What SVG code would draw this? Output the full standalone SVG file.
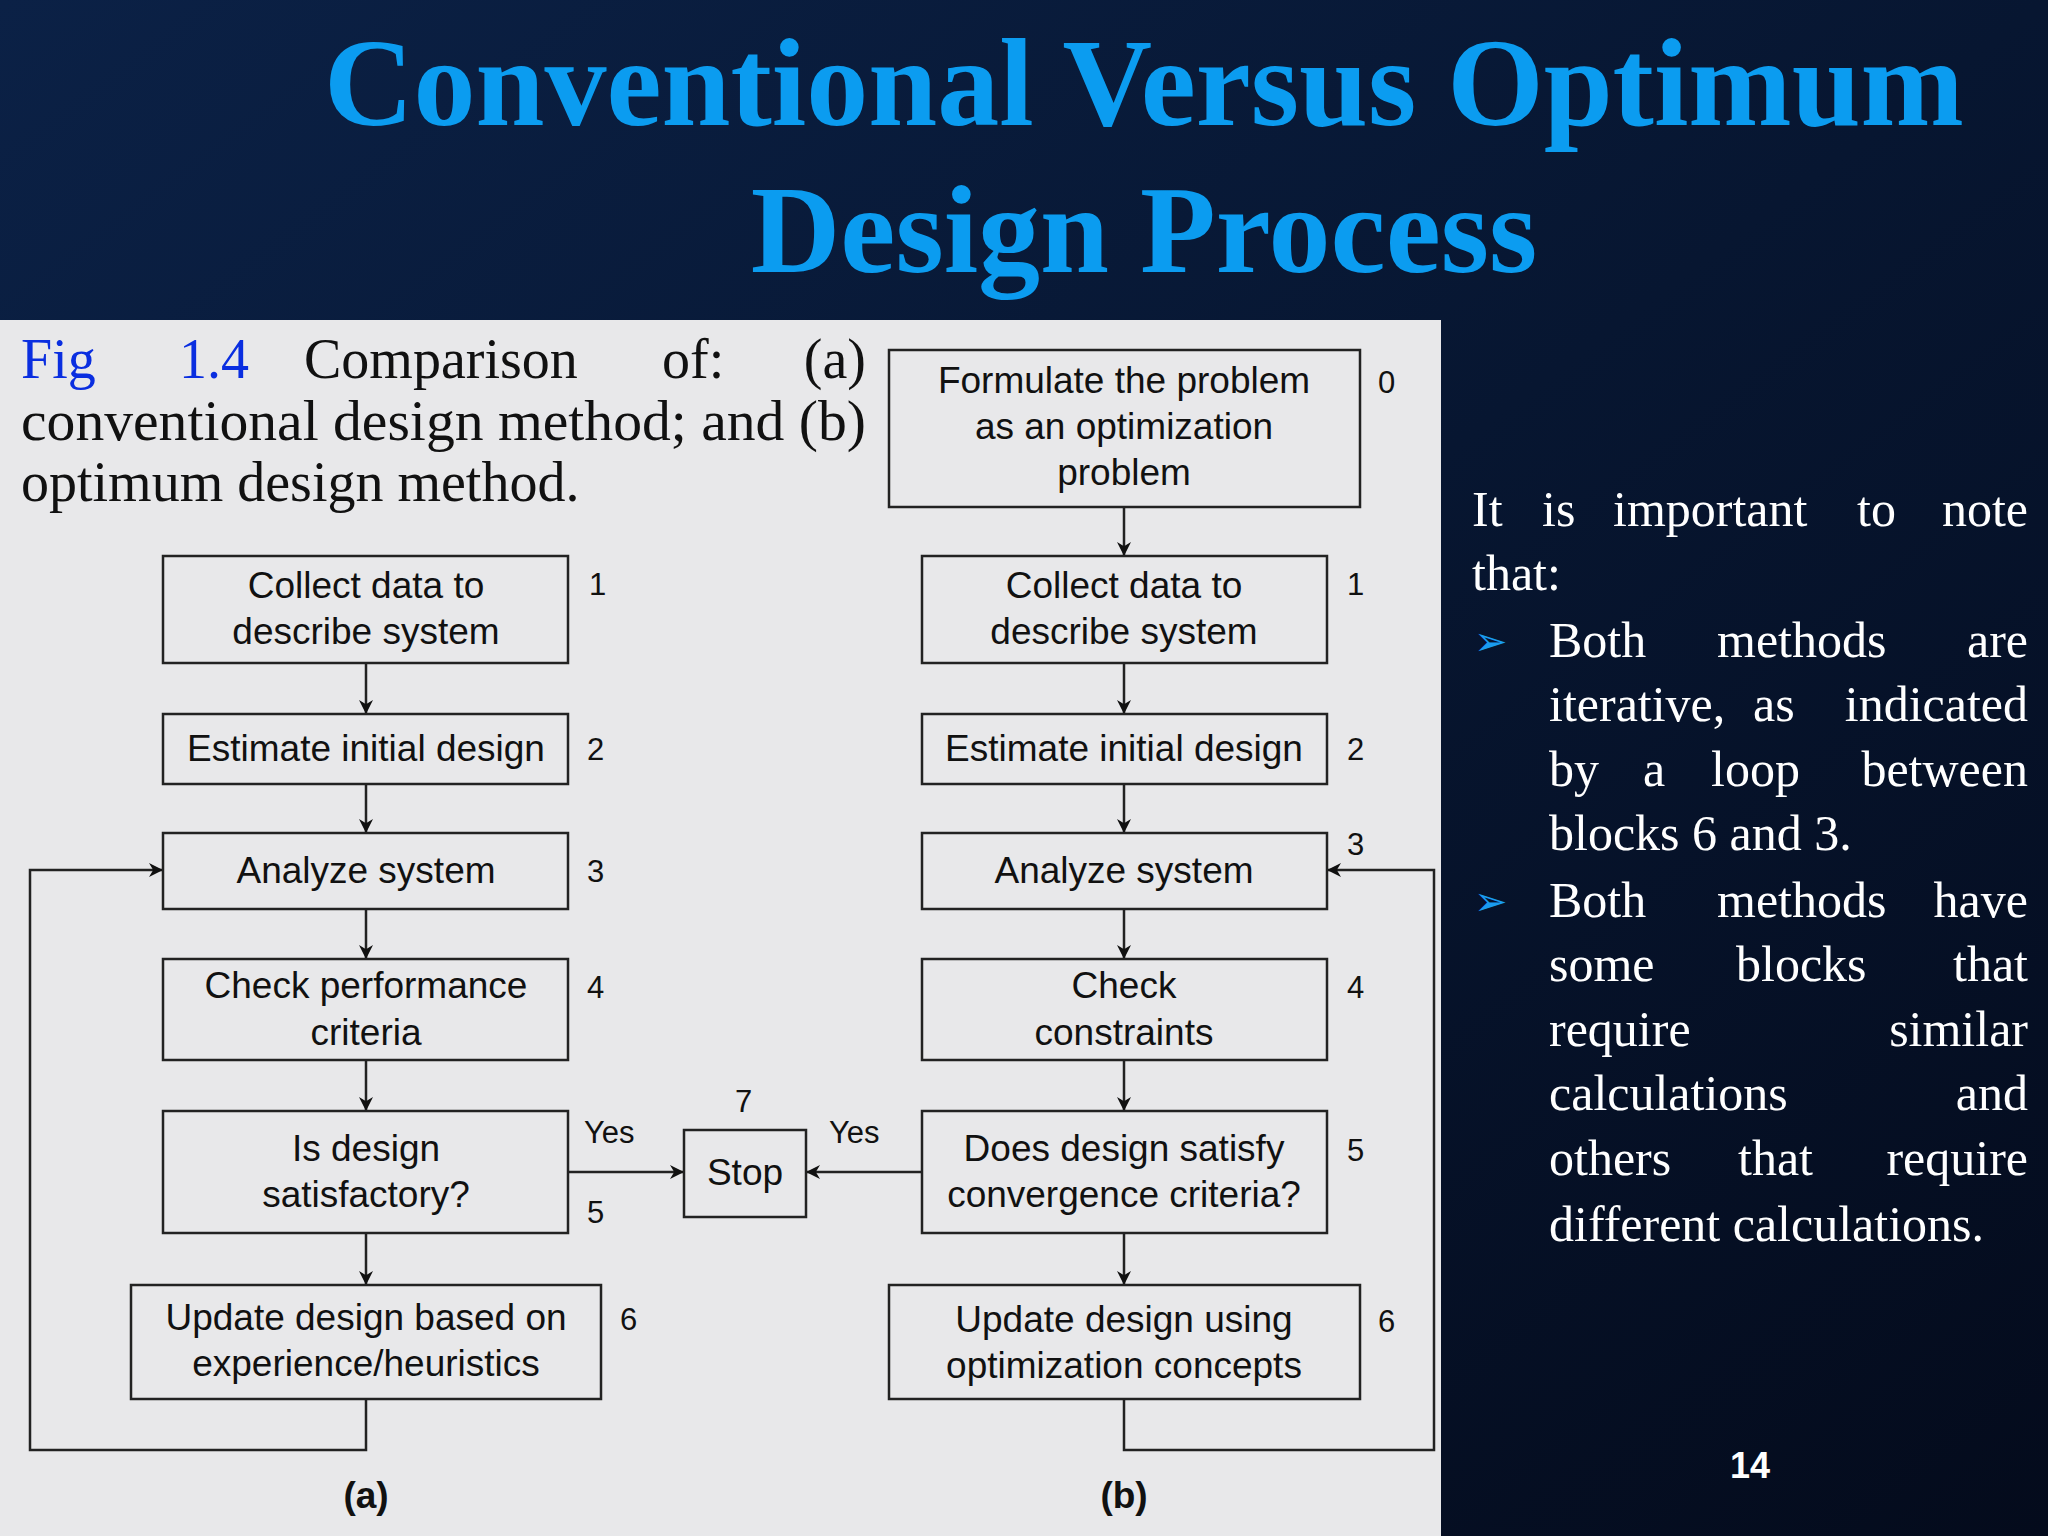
<svg xmlns="http://www.w3.org/2000/svg" width="2048" height="1536" viewBox="0 0 2048 1536">
<defs>
<linearGradient id="bg" x1="0" y1="0" x2="1" y2="1">
<stop offset="0" stop-color="#0b2146"/><stop offset="0.5" stop-color="#071631"/><stop offset="1" stop-color="#040b1c"/>
</linearGradient>
<marker id="ar" viewBox="0 0 10 10" refX="10" refY="5" markerWidth="16" markerHeight="14" orient="auto" markerUnits="userSpaceOnUse"><path d="M0,0 L10,5 L0,10 L3,5 z" fill="#111"/></marker>
<style>
.t{font-family:"Liberation Serif",serif;font-weight:bold;font-size:124px;fill:#0b9cf0;text-anchor:middle}
.c{font-family:"Liberation Serif",serif;font-size:56px;fill:#111}
.b{fill:#0a2ee0}
.box{fill:none;stroke:#222;stroke-width:2.5}
.n{font-family:"Liberation Sans",Arial,sans-serif;font-size:37px;fill:#111;text-anchor:middle}
.s{font-family:"Liberation Sans",Arial,sans-serif;font-size:31px;fill:#111}
.w{font-family:"Liberation Serif",serif;font-size:50px;fill:#fff}
.e{text-anchor:end}
.ln{fill:none;stroke:#222;stroke-width:2.5}
</style>
</defs>
<rect width="2048" height="1536" fill="url(#bg)"/>
<text class="t" x="1144" y="125">Conventional Versus Optimum</text>
<text class="t" x="1144" y="272">Design Process</text>
<rect x="0" y="320" width="1441" height="1216" fill="#e8e8ea"/>
<g id="caption">
<text class="c b" x="21" y="378">Fig</text>
<text class="c b" x="179" y="378">1.4</text>
<text class="c" x="304" y="378">Comparison</text>
<text class="c" x="662" y="378">of:</text>
<text class="c e" x="866" y="378">(a)</text>
<text class="c" x="21" y="440" textLength="845" lengthAdjust="spacingAndGlyphs">conventional design method; and (b)</text>
<text class="c" x="21" y="501">optimum design method.</text>
</g>
<g id="connectors">
<line class="ln" x1="366" y1="663" x2="366" y2="714" marker-end="url(#ar)"/>
<line class="ln" x1="366" y1="784" x2="366" y2="833" marker-end="url(#ar)"/>
<line class="ln" x1="366" y1="909" x2="366" y2="959" marker-end="url(#ar)"/>
<line class="ln" x1="366" y1="1060" x2="366" y2="1111" marker-end="url(#ar)"/>
<line class="ln" x1="366" y1="1233" x2="366" y2="1285" marker-end="url(#ar)"/>
<polyline class="ln" points="366,1399 366,1450 30,1450 30,870 163,870" marker-end="url(#ar)"/>
<line class="ln" x1="1124" y1="507" x2="1124" y2="556" marker-end="url(#ar)"/>
<line class="ln" x1="1124" y1="663" x2="1124" y2="714" marker-end="url(#ar)"/>
<line class="ln" x1="1124" y1="784" x2="1124" y2="833" marker-end="url(#ar)"/>
<line class="ln" x1="1124" y1="909" x2="1124" y2="959" marker-end="url(#ar)"/>
<line class="ln" x1="1124" y1="1060" x2="1124" y2="1111" marker-end="url(#ar)"/>
<line class="ln" x1="1124" y1="1233" x2="1124" y2="1285" marker-end="url(#ar)"/>
<polyline class="ln" points="1124,1399 1124,1450 1434,1450 1434,870 1327,870" marker-end="url(#ar)"/>
<line class="ln" x1="568" y1="1172" x2="684" y2="1172" marker-end="url(#ar)"/>
<line class="ln" x1="922" y1="1172" x2="806" y2="1172" marker-end="url(#ar)"/>
</g>
<g id="a1"><rect class="box" x="163" y="556" width="405" height="107"/><text class="n" x="366" y="598">Collect data to</text><text class="n" x="366" y="644">describe system</text><text class="s" x="589" y="595">1</text></g>
<g id="a2"><rect class="box" x="163" y="714" width="405" height="70"/><text class="n" x="366" y="761">Estimate initial design</text><text class="s" x="587" y="760">2</text></g>
<g id="a3"><rect class="box" x="163" y="833" width="405" height="76"/><text class="n" x="366" y="883">Analyze system</text><text class="s" x="587" y="882">3</text></g>
<g id="a4"><rect class="box" x="163" y="959" width="405" height="101"/><text class="n" x="366" y="998">Check performance</text><text class="n" x="366" y="1045">criteria</text><text class="s" x="587" y="998">4</text></g>
<g id="a5"><rect class="box" x="163" y="1111" width="405" height="122"/><text class="n" x="366" y="1161">Is design</text><text class="n" x="366" y="1207">satisfactory?</text><text class="s" x="584" y="1143">Yes</text><text class="s" x="587" y="1223">5</text></g>
<g id="a6"><rect class="box" x="131" y="1285" width="470" height="114"/><text class="n" x="366" y="1330">Update design based on</text><text class="n" x="366" y="1376">experience/heuristics</text><text class="s" x="620" y="1330">6</text></g>
<g id="stop"><rect class="box" x="684" y="1130" width="122" height="87"/><text class="n" x="745" y="1185">Stop</text><text class="s" x="735" y="1112">7</text></g>
<g id="b0"><rect class="box" x="889" y="350" width="471" height="157"/><text class="n" x="1124" y="393">Formulate the problem</text><text class="n" x="1124" y="439">as an optimization</text><text class="n" x="1124" y="485">problem</text><text class="s" x="1378" y="393">0</text></g>
<g id="b1"><rect class="box" x="922" y="556" width="405" height="107"/><text class="n" x="1124" y="598">Collect data to</text><text class="n" x="1124" y="644">describe system</text><text class="s" x="1347" y="595">1</text></g>
<g id="b2"><rect class="box" x="922" y="714" width="405" height="70"/><text class="n" x="1124" y="761">Estimate initial design</text><text class="s" x="1347" y="760">2</text></g>
<g id="b3"><rect class="box" x="922" y="833" width="405" height="76"/><text class="n" x="1124" y="883">Analyze system</text><text class="s" x="1347" y="855">3</text></g>
<g id="b4"><rect class="box" x="922" y="959" width="405" height="101"/><text class="n" x="1124" y="998">Check</text><text class="n" x="1124" y="1045">constraints</text><text class="s" x="1347" y="998">4</text></g>
<g id="b5"><rect class="box" x="922" y="1111" width="405" height="122"/><text class="n" x="1124" y="1161">Does design satisfy</text><text class="n" x="1124" y="1207">convergence criteria?</text><text class="s" x="829" y="1143">Yes</text><text class="s" x="1347" y="1161">5</text></g>
<g id="b6"><rect class="box" x="889" y="1285" width="471" height="114"/><text class="n" x="1124" y="1332">Update design using</text><text class="n" x="1124" y="1378">optimization concepts</text><text class="s" x="1378" y="1332">6</text></g>
<text class="n" x="366" y="1508" font-weight="bold" font-size="32">(a)</text>
<text class="n" x="1124" y="1508" font-weight="bold" font-size="32">(b)</text>
<g id="notes">
<text class="w" x="1472" y="526">It</text><text class="w" x="1542" y="526">is</text><text class="w" x="1613" y="526">important</text><text class="w" x="1857" y="526">to</text><text class="w e" x="2028" y="526">note</text>
<text class="w" x="1472" y="590">that:</text>
<text x="1474" y="655" font-family="DejaVu Sans,sans-serif" font-size="40" fill="#1a9cf0">➢</text>
<text class="w" x="1549" y="657">Both</text><text class="w" x="1717" y="657">methods</text><text class="w e" x="2028" y="657">are</text>
<text class="w" x="1549" y="721">iterative,</text><text class="w" x="1753" y="721">as</text><text class="w e" x="2028" y="721">indicated</text>
<text class="w" x="1549" y="786">by</text><text class="w" x="1643" y="786">a</text><text class="w" x="1711" y="786">loop</text><text class="w e" x="2028" y="786">between</text>
<text class="w" x="1549" y="850">blocks 6 and 3.</text>
<text x="1474" y="915" font-family="DejaVu Sans,sans-serif" font-size="40" fill="#1a9cf0">➢</text>
<text class="w" x="1549" y="917">Both</text><text class="w" x="1717" y="917">methods</text><text class="w e" x="2028" y="917">have</text>
<text class="w" x="1549" y="981">some</text><text class="w" x="1736" y="981">blocks</text><text class="w e" x="2028" y="981">that</text>
<text class="w" x="1549" y="1046">require</text><text class="w e" x="2028" y="1046">similar</text>
<text class="w" x="1549" y="1110">calculations</text><text class="w e" x="2028" y="1110">and</text>
<text class="w" x="1549" y="1175">others</text><text class="w" x="1738" y="1175">that</text><text class="w e" x="2028" y="1175">require</text>
<text class="w" x="1549" y="1241">different calculations.</text>
</g>
<text x="1750" y="1478" font-family="Liberation Sans,sans-serif" font-weight="bold" font-size="36" fill="#fff" text-anchor="middle">14</text>
</svg>
